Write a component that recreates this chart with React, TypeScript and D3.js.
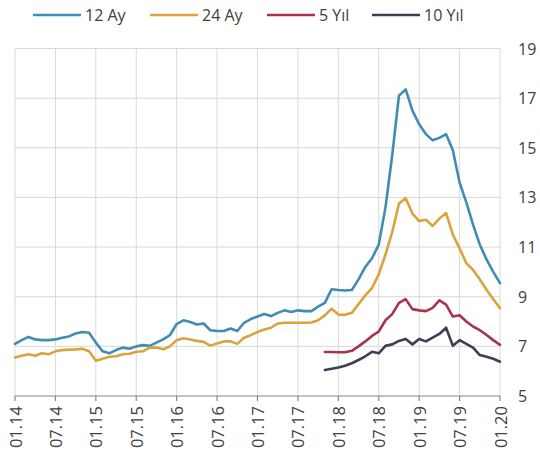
import React from "react";
import * as d3 from "d3";

const tickLabels = ["01.14","07.14","01.15","07.15","01.16","07.16","01.17","07.17","01.18","07.18","01.19","07.19","01.20"];
const yTicks = [5, 7, 9, 11, 13, 15, 17, 19];

// monthly values, index 0 = 01.14 ... 72 = 01.20
const ay12 = [
  7.10, 7.25, 7.38, 7.28, 7.25, 7.25, 7.28, 7.35, 7.40, 7.52, 7.58, 7.55,
  7.15, 6.80, 6.72, 6.85, 6.95, 6.90, 7.00, 7.05, 7.02, 7.15, 7.28, 7.45,
  7.90, 8.05, 7.98, 7.88, 7.92, 7.65, 7.62, 7.62, 7.72, 7.62, 7.95, 8.10,
  8.20, 8.30, 8.22, 8.35, 8.45, 8.38, 8.45, 8.42, 8.42, 8.60, 8.75, 9.30,
  9.27, 9.25, 9.27, 9.70, 10.20, 10.55, 11.10, 12.60, 14.70, 17.10, 17.35, 16.50,
  15.95, 15.55, 15.30, 15.40, 15.55, 14.90, 13.60, 12.80, 11.90, 11.10, 10.50, 10.00,
  9.55,
];
const ay24 = [
  6.55, 6.62, 6.68, 6.62, 6.72, 6.68, 6.80, 6.85, 6.87, 6.88, 6.90, 6.80,
  6.42, 6.50, 6.58, 6.60, 6.68, 6.70, 6.78, 6.80, 6.95, 6.95, 6.88, 7.00,
  7.25, 7.33, 7.28, 7.22, 7.18, 7.03, 7.12, 7.20, 7.20, 7.10, 7.35, 7.45,
  7.58, 7.68, 7.75, 7.92, 7.95, 7.95, 7.95, 7.95, 7.96, 8.05, 8.25, 8.52,
  8.28, 8.27, 8.35, 8.70, 9.05, 9.35, 9.90, 10.70, 11.60, 12.75, 12.97, 12.35,
  12.05, 12.10, 11.85, 12.15, 12.37, 11.50, 10.95, 10.35, 10.08, 9.70, 9.28, 8.90,
  8.54,
];
const yil5Start = 46;
const yil5 = [
  6.77, 6.77, 6.76, 6.76, 6.82, 7.00, 7.20, 7.42, 7.60, 8.05, 8.30, 8.75, 8.90, 8.50,
  8.45, 8.42, 8.55, 8.85, 8.68, 8.20, 8.25, 8.00, 7.80, 7.65, 7.46, 7.25, 7.06,
];
const yil10Start = 46;
const yil10 = [
  6.05, 6.10, 6.15, 6.22, 6.32, 6.45, 6.60, 6.78, 6.72, 7.02, 7.08, 7.22, 7.30, 7.08,
  7.30, 7.20, 7.35, 7.50, 7.75, 7.02, 7.25, 7.10, 6.95, 6.65, 6.58, 6.50, 6.38,
];

const seriesNames = ["12 Ay", "24 Ay", "5 Yıl", "10 Yıl"];
const seriesColors = ["#3f8db3", "#dca23e", "#a8344b", "#3d4054"];

export default function App() {
  const W = 540, H = 457;
  const x = d3.scaleLinear().domain([0, 72]).range([15, 500]);
  const y = d3.scaleLinear().domain([5, 19]).range([396, 48.5]);
  const font = "'Open Sans', sans-serif";

  const series = [
    { data: ay12, start: 0 },
    { data: ay24, start: 0 },
    { data: yil5, start: yil5Start },
    { data: yil10, start: yil10Start },
  ];
  const line = d3.line<[number, number]>().x(d => x(d[0])).y(d => y(d[1]));

  const legendX = [33, 150, 267, 372];

  return (
    <svg width={W} height={H} style={{ position: "absolute", left: 0, top: 0, background: "#fff" }}>
      {/* horizontal grid */}
      {yTicks.filter(t => t > 5).map(t => (
        <line key={"h" + t} x1={15} x2={500} y1={y(t)} y2={y(t)} stroke="#d9d9d9" strokeWidth={1} />
      ))}
      {/* vertical grid */}
      {tickLabels.map((_, i) => (
        <line key={"v" + i} x1={x(i * 6)} x2={x(i * 6)} y1={y(19)} y2={y(5)} stroke="#d9d9d9" strokeWidth={1} />
      ))}
      {/* x axis */}
      <line x1={15} x2={500} y1={y(5)} y2={y(5)} stroke="#868686" strokeWidth={1.2} />
      {tickLabels.map((lab, i) => (
        <g key={"t" + i}>
          <line x1={x(i * 6)} x2={x(i * 6)} y1={y(5)} y2={y(5) + 5} stroke="#868686" strokeWidth={1.2} />
          <text
            transform={`translate(${x(i * 6)},${y(5) + 10}) rotate(-90)`}
            textAnchor="end"
            dominantBaseline="central"
            fontFamily={font}
            fontSize={16.5}
            fill="#404040"
          >{lab}</text>
        </g>
      ))}
      {/* y labels */}
      {yTicks.map(t => (
        <text key={"y" + t} x={518} y={y(t)} dominantBaseline="central" fontFamily={font} fontSize={16} fill="#404040">{t}</text>
      ))}
      {/* lines */}
      {series.map((s, k) => (
        <path
          key={"s" + k}
          d={line(s.data.map((v, i) => [i + s.start, v] as [number, number])) || ""}
          fill="none"
          stroke={seriesColors[k]}
          strokeWidth={2.6}
          strokeLinejoin="round"
          strokeLinecap="round"
        />
      ))}
      {/* legend */}
      {seriesNames.map((n, k) => (
        <g key={"l" + k}>
          <line x1={legendX[k]} x2={legendX[k] + 48} y1={15} y2={15} stroke={seriesColors[k]} strokeWidth={2.6} />
          <text x={legendX[k] + 52} y={15} dominantBaseline="central" fontFamily={font} fontSize={16} fill="#404040">{n}</text>
        </g>
      ))}
    </svg>
  );
}
